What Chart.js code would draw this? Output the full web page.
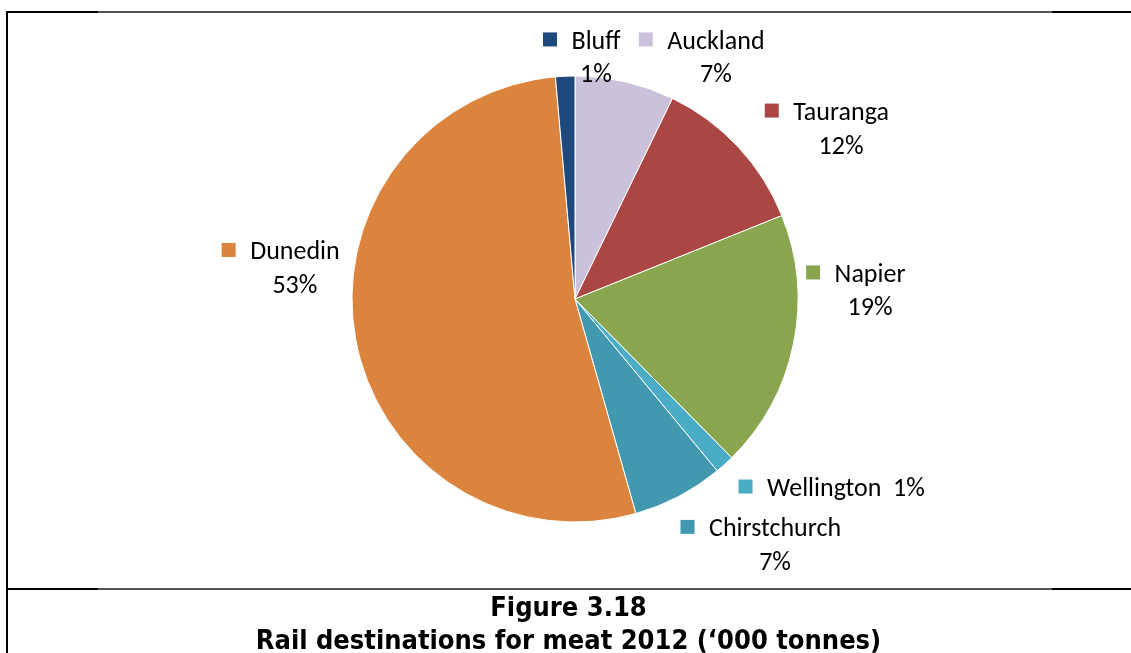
<!DOCTYPE html>
<html><head><meta charset="utf-8">
<script src="https://cdn.jsdelivr.net/npm/chart.js@4"></script>
<style>
html,body{margin:0;padding:0;background:#fff;width:1131px;height:653px;overflow:hidden;}
#wrap{position:relative;width:1131px;height:653px;}
canvas{position:absolute;left:0;top:0;}
.ln{position:absolute;}
.cap{position:absolute;left:6px;width:1125px;text-align:center;font-family:'DejaVu Sans Condensed','DejaVu Sans',sans-serif;font-weight:bold;color:#000;white-space:nowrap;font-size:27px;line-height:32px;}
</style></head>
<body><div id="wrap">
<canvas id="c" width="1131" height="653"></canvas>
<div class="ln" style="left:6px;top:11px;width:2px;height:642px;background:#000"></div>
<div class="ln" style="left:6px;top:11px;width:92px;height:2px;background:#000"></div>
<div class="ln" style="left:98px;top:11px;width:954px;height:2px;background:#555"></div>
<div class="ln" style="left:1052px;top:11px;width:79px;height:2px;background:#000"></div>
<div class="ln" style="left:6px;top:588px;width:92px;height:2px;background:#000"></div>
<div class="ln" style="left:98px;top:588px;width:954px;height:2px;background:#555"></div>
<div class="ln" style="left:1052px;top:588px;width:79px;height:2px;background:#000"></div>
<div class="cap" id="cap1" style="top:591px">Figure 3.18</div>
<div class="cap" id="cap2" style="top:624px">Rail destinations for meat 2012 (‘000 tonnes)</div>
</div>
<script>
// ---- data ----
const categories = ['Auckland', 'Tauranga', 'Napier', 'Wellington', 'Chirstchurch', 'Dunedin', 'Bluff'];
const shares = [7.2, 11.7, 18.7, 1.4, 6.6, 53.0, 1.4];
const sliceColors = ['#CCC1DA', '#AA4643', '#89A54E', '#4BACC6', '#4198AF', '#DB843D', '#1F497D'];

// ---- label layout (text centre relative to pie centre, in radii) ----
const labelLayout = {
  Auckland:     { dx: 0.632, dy: -1.164 },
  Tauranga:     { dx: 1.193, dy: -0.845 },
  Napier:       { dx: 1.323, dy: -0.119 },
  Wellington:   { dx: 1.215, dy: 0.841, oneLine: true },
  Chirstchurch: { dx: 0.897, dy: 1.022 },
  Dunedin:      { dx: -1.256, dy: -0.220 },
  Bluff:        { dx: 0.094, dy: -1.164 }
};
const LABEL_FONT = '26px Carlito, Lato, sans-serif';
const LINE_H = 33.5;

const pieLabels = {
  id: 'pieLabels',
  afterDatasetsDraw(chart) {
    const ctx = chart.ctx;
    const meta = chart.getDatasetMeta(0);
    const data = chart.data.datasets[0].data;
    const total = data.reduce((a, b) => a + b, 0);
    ctx.save();
    ctx.font = LABEL_FONT;
    ctx.textBaseline = 'middle';
    ctx.textAlign = 'center';
    meta.data.forEach((arc, i) => {
      const name = chart.data.labels[i];
      const lay = labelLayout[name];
      const r = arc.outerRadius;
      const cx = arc.x + lay.dx * r;
      const cy = arc.y + lay.dy * r;
      const pct = Math.round(data[i] / total * 100) + '%';
      const line1 = lay.oneLine ? name + '  ' + pct : name;
      const w1 = ctx.measureText(line1).width;
      ctx.fillStyle = '#000';
      ctx.fillText(line1, cx, cy + 3);
      if (!lay.oneLine) ctx.fillText(pct, cx, cy + 3 + LINE_H);
      const sq = 14;
      ctx.fillStyle = chart.data.datasets[0].backgroundColor[i];
      ctx.fillRect(cx - w1 / 2 - 14.5 - sq, cy - sq / 2, sq, sq);
    });
    ctx.restore();
  }
};

new Chart(document.getElementById('c'), {
  type: 'pie',
  data: {
    labels: categories,
    datasets: [{
      data: shares,
      backgroundColor: sliceColors,
      borderColor: '#FFFFFF',
      borderWidth: 1
    }]
  },
  options: {
    responsive: false,
    devicePixelRatio: 1,
    animation: false,
    radius: 223,
    layout: { padding: { left: 19, right: 0, top: 0, bottom: 55 } },
    plugins: { legend: { display: false }, tooltip: { enabled: false } }
  },
  plugins: [pieLabels]
});
</script>
</body></html>
